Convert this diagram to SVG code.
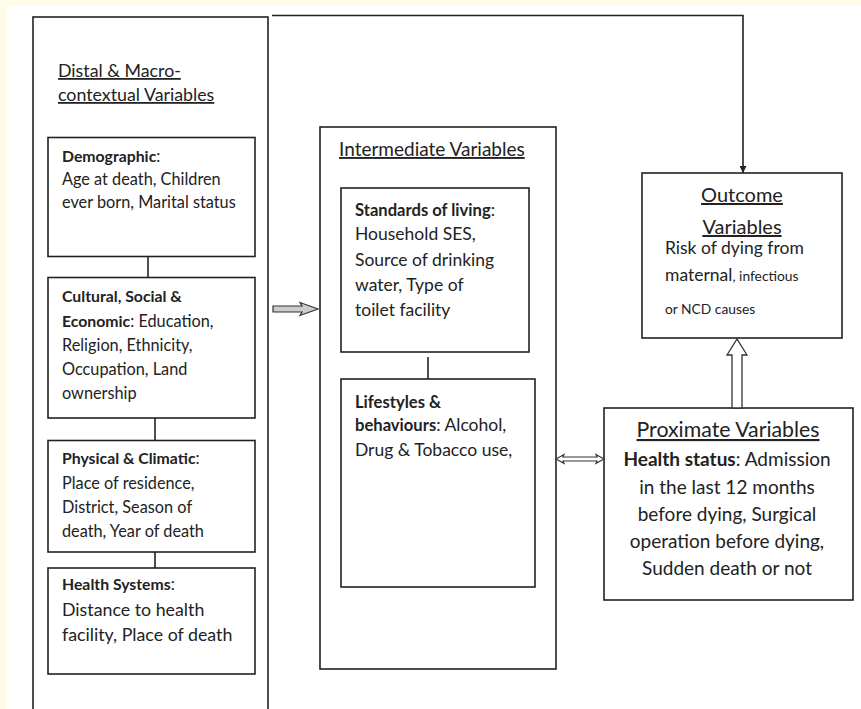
<svg xmlns="http://www.w3.org/2000/svg" width="861" height="709" viewBox="0 0 861 709">
<style>
.box{fill:#fff;stroke:#222;stroke-width:1.6}
.ln{fill:none;stroke:#222;stroke-width:1.6}
text{font-family:Lato,"Liberation Sans",Arial,sans-serif;fill:#222;font-size:16.3px}
.b{font-weight:bold}
.u{text-decoration:underline}
.c{text-anchor:middle}
.s13{font-size:13.8px}
.s155{font-size:15.8px}
.s165{font-size:16.6px}
.s175{font-size:17.5px}
.s178{font-size:17.8px}
.s19{font-size:19px}
.s20{font-size:20px}
.s21{font-size:21.3px}
</style>
<defs>
<marker id="ah" viewBox="0 0 10 10" refX="10" refY="5" markerWidth="7" markerHeight="7" orient="auto" markerUnits="userSpaceOnUse">
<path d="M0,0 L10,5 L0,10 z" fill="#222"/>
</marker>
</defs>
<rect x="0" y="0" width="861" height="709" fill="#fefbe9"/>
<rect x="7" y="6" width="854" height="703" fill="#fff"/>

<g id="distal">
<rect class="box" x="33" y="17" width="235" height="710"/>
<text class="u s178" x="58" y="77">Distal &amp; Macro-</text>
<text class="u s178" x="58" y="101">contextual Variables</text>
</g>
<g id="demographic">
<rect class="box" x="48" y="137.5" width="207" height="119"/>
<text x="62" y="162"><tspan class="b s155">Demographic</tspan>:</text>
<text x="62" y="185">Age at death, Children</text>
<text x="62" y="208">ever born, Marital status</text>
</g>
<g id="cultural">
<rect class="box" x="48" y="277.5" width="207" height="140.5"/>
<text class="b s155" x="62" y="302">Cultural, Social &amp;</text>
<text x="62" y="327"><tspan class="b s155">Economic</tspan>: Education,</text>
<text x="62" y="351">Religion, Ethnicity,</text>
<text x="62" y="375">Occupation, Land</text>
<text x="62" y="399">ownership</text>
</g>
<g id="physical">
<rect class="box" x="48" y="440.5" width="207" height="111.5"/>
<text x="62" y="464"><tspan class="b s155">Physical &amp; Climatic</tspan>:</text>
<text x="62" y="489">Place of residence,</text>
<text x="62" y="513">District, Season of</text>
<text x="62" y="537">death, Year of death</text>
</g>
<g id="health-systems">
<rect class="box" x="48" y="568" width="207" height="106"/>
<text x="62" y="590"><tspan class="b s155">Health Systems</tspan>:</text>
<text class="s178" x="62" y="616">Distance to health</text>
<text class="s178" x="62" y="641">facility, Place of death</text>
</g>

<g id="intermediate">
<rect class="box" x="320" y="127" width="236" height="542"/>
<text class="u s19" x="339" y="156">Intermediate Variables</text>
</g>
<g id="standards">
<rect class="box" x="341" y="188" width="188" height="164"/>
<text class="s175" x="355" y="216"><tspan class="b s165">Standards of living</tspan>:</text>
<text class="s175" x="355" y="240">Household SES,</text>
<text class="s175" x="355" y="266">Source of drinking</text>
<text class="s175" x="355" y="291">water, Type of</text>
<text class="s175" x="355" y="316">toilet facility</text>
</g>
<g id="lifestyles">
<rect class="box" x="341" y="379" width="194" height="208"/>
<text class="b s165" x="355" y="408">Lifestyles &amp;</text>
<text class="s175" x="355" y="431"><tspan class="b s165">behaviours</tspan>: Alcohol,</text>
<text class="s175" x="355" y="456">Drug &amp; Tobacco use,</text>
</g>

<g id="outcome">
<rect class="box" x="642" y="173" width="200" height="165"/>
<text class="u c s20" x="742" y="202">Outcome</text>
<text class="u c s20" x="742" y="234">Variables</text>
<text class="s175" x="665" y="254">Risk of dying from</text>
<text class="s175" x="665" y="281">maternal<tspan class="s13">, infectious</tspan></text>
<text class="s13" x="665" y="314">or NCD causes</text>
</g>
<g id="proximate">
<rect class="box" x="604" y="408" width="249" height="192"/>
<text class="u c s21" x="728" y="437">Proximate Variables</text>
<text class="c s19" x="727" y="466"><tspan class="b">Health status</tspan>: Admission</text>
<text class="c s19" x="727" y="494">in the last 12 months</text>
<text class="c s19" x="727" y="521">before dying, Surgical</text>
<text class="c s19" x="727" y="548">operation before dying,</text>
<text class="c s19" x="727" y="575">Sudden death or not</text>
</g>

<g id="connectors">
<line class="ln" x1="148" y1="256.5" x2="148" y2="277.5"/>
<line class="ln" x1="155" y1="418" x2="155" y2="440.5"/>
<line class="ln" x1="155" y1="552" x2="155" y2="568"/>
<line class="ln" x1="428" y1="357" x2="428" y2="379"/>
<path class="ln" d="M272,15.5 H743 V173" marker-end="url(#ah)"/>
<polygon points="273,306 302,306 300,302.5 318,309 300,315.5 302,312 273,312" fill="#ccc" stroke="#333" stroke-width="1.2"/>
<polygon points="556,459 564,454.5 563,457 597,457 596,454.5 604,459 596,463.5 597,461 563,461 564,463.5" fill="#fff" stroke="#333" stroke-width="1.2"/>
<polygon points="732,408 732,355 727,355 737,339 747,355 742,355 742,408" fill="#fff" stroke="#333" stroke-width="1.3"/>
</g>
</svg>
